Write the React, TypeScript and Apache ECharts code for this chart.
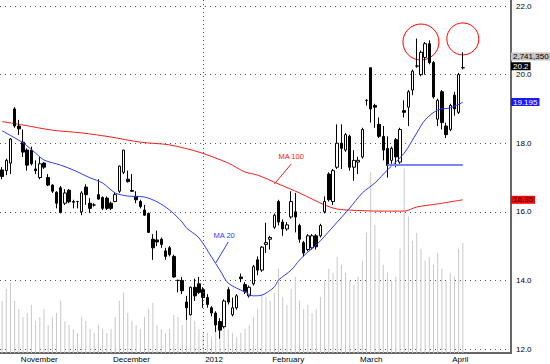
import React, { useEffect, useRef } from "react";
import * as echarts from "echarts";

// ---- data ----
const opens = [17.22,17.2,17.42,19.0,18.5,18.03,17.8,17.8,17.25,17.0,17.42,17.0,16.78,16.57,16.7,16.25,16.63,16.3,16.3,16.0,16.72,16.25,16.2,16.5,16.42,16.4,16.25,16.3,16.6,17.15,16.95,16.62,16.45,16.3,16.05,15.95,15.2,15.18,15.2,14.86,14.95,14.7,14.0,14.0,13.37,13.0,13.8,13.9,13.73,13.5,13.2,13.05,12.8,12.65,13.73,13.0,13.2,14.1,13.88,13.55,13.9,14.6,14.3,15.05,15.2,15.55,16.3,15.7,15.5,15.85,16.0,15.6,15.1,14.9,14.95,15.3,15.3,16.0,17.1,16.3,17.3,18.0,17.8,18.2,17.3,17.45,17.6,19.25,20.2,19.1,18.55,18.2,17.85,17.5,18.1,17.45,18.95,19.05,19.55,20.25,20.0,20.5,20.9,20.35,18.7,19.5,18.5,18.4,19.4,18.9,20.2];
const closes = [17.03,17.5,18.12,18.5,18.42,17.74,17.36,17.4,17.2,17.4,17.3,16.78,16.6,16.25,15.98,16.55,16.29,16.28,16.3,16.55,16.5,16.1,16.2,16.37,16.1,16.1,16.1,16.5,17.33,17.8,16.88,16.6,16.35,16.15,15.9,15.4,14.95,15.12,15.05,14.7,14.75,14.1,14.0,13.7,13.2,13.8,13.55,13.65,13.5,13.3,13.05,12.7,12.55,13.4,13.37,13.2,13.55,14.05,13.67,13.8,14.4,14.3,14.97,15.1,15.25,15.9,15.7,15.5,15.62,16.3,15.85,15.2,14.8,15.3,15.3,14.98,15.6,16.3,16.35,17.2,18.0,17.85,18.25,17.3,17.5,17.5,18.4,19.25,19.0,19.05,18.2,17.8,17.35,17.85,17.6,18.4,18.9,19.5,20.1,20.25,20.65,20.9,20.35,19.35,19.25,18.6,18.25,19.1,19.0,20.0,20.2];
const lows = [16.95,17.07,17.1,18.45,18.24,17.6,17.2,17.35,17.1,16.95,17.25,16.75,16.55,16.1,15.95,16.2,16.25,16.1,16.1,15.9,16.2,15.97,16.15,16.35,16.05,16.05,16.05,16.28,16.55,17.1,16.85,16.58,16.25,16.1,15.88,15.38,14.6,15.0,14.95,14.6,14.7,14.08,13.65,13.6,12.85,12.98,13.4,13.6,13.2,13.2,12.95,12.5,12.3,12.6,13.3,12.95,13.15,13.95,13.6,13.5,13.85,14.15,14.25,14.8,14.9,15.5,15.6,15.3,15.45,15.8,15.4,15.1,14.7,14.85,14.9,14.9,15.25,15.95,16.3,16.2,17.25,17.25,17.75,17.2,16.9,17.1,17.55,19.1,18.6,18.45,18.15,17.5,17.0,17.4,17.3,17.4,18.75,18.5,19.4,20.2,19.95,20.0,20.3,19.3,18.5,18.4,18.15,18.35,18.8,18.85,20.15];
const highs = [17.3,17.55,18.15,19.05,18.68,18.4,17.85,17.9,17.5,17.6,17.45,17.1,16.8,16.6,16.75,16.66,16.66,16.35,16.32,16.6,16.8,16.4,16.25,16.95,16.45,16.45,16.3,16.55,17.35,17.8,17.2,17.1,16.6,16.35,16.2,15.98,15.35,15.45,15.25,14.95,15.0,14.75,14.02,14.1,13.55,13.82,14.05,14.1,13.8,13.6,13.25,13.1,12.9,13.45,13.8,13.5,13.6,14.2,13.95,13.85,14.45,14.7,15.0,15.68,15.3,15.95,16.35,15.78,15.7,16.6,16.55,15.65,15.15,15.35,15.35,15.35,15.65,16.45,17.15,17.25,18.55,18.55,18.3,18.25,17.8,17.6,18.45,19.28,20.2,19.15,18.75,18.5,18.2,17.9,18.15,18.45,19.25,19.55,20.15,21.05,20.7,20.95,21.0,20.4,19.3,19.55,18.6,19.15,19.5,20.05,20.65];
const volumes = [1.3,1.6,1.75,1.3,1.1,0.9,1.0,1.2,0.8,0.9,1.1,0.7,0.9,1.0,1.3,0.8,0.7,0.6,0.5,0.9,0.8,0.6,0.5,0.7,0.6,0.5,0.6,0.9,1.3,1.5,1.0,0.8,0.7,0.6,0.9,1.1,1.25,0.7,0.6,0.5,0.6,0.95,0.9,0.7,1.15,1.0,0.8,0.6,0.5,0.5,0.4,0.6,0.7,0.9,0.6,0.5,0.4,0.5,0.6,0.7,0.9,1.1,1.45,1.4,1.3,1.5,2.1,1.4,1.2,1.6,1.9,1.3,1.1,1.2,1.0,1.1,1.4,1.8,2.1,2.0,2.4,2.2,2.0,1.8,1.7,1.9,2.3,3.0,4.5,3.2,2.6,2.2,2.0,1.8,1.9,2.6,4.6,3.4,2.8,3.0,2.6,2.3,2.4,2.2,2.5,2.1,1.8,2.0,1.9,2.6,2.74135].map((v) => v * 1e6);
const ma20 = [[0,18.36],[5,18.01],[8,17.71],[10,17.51],[14,17.36],[17,17.22],[21,16.99],[24,16.84],[27,16.55],[30,16.46],[34,16.43],[37,16.29],[40,16.05],[43,15.7],[44,15.53],[47,15.24],[50,14.68],[52,14.3],[54,13.92],[58,13.66],[60,13.55],[62,13.57],[65,13.81],[66,14.01],[69,14.3],[71,14.59],[73,14.83],[75,15.03],[77,15.29],[80,15.7],[83,16.11],[86,16.55],[89,16.84],[92,17.22],[96,17.71],[99,18.3],[101,18.68],[104,18.97],[107,19.03],[110,19.195]];
const ma100 = [[0,18.63],[5,18.53],[12,18.38],[19,18.3],[26,18.18],[33,18.03],[40,17.95],[47,17.74],[54,17.42],[58,17.16],[61,17.07],[66,16.81],[71,16.55],[77,16.2],[80,16.08],[83,16.05],[90,16.02],[96,16.02],[99,16.14],[104,16.23],[110,16.35]];
const monthLabels = ["November", "December", "2012", "February", "March", "April"];
const monthStartIdx = [4, 26, 48, 64, 85, 107];
const priceTicks = [12, 14, 16, 18, 20, 22];
const emptySlots = 11;
const lastPrice = 20.2;
const lastMa20 = 19.195;
const lastMa100 = 16.35;
const lastVolume = 2741350;
const supportLevel = 17.36;
const supportRange = [92, 110];
const yearBreakIdx = 48;

const FONT = 'Arial, "Liberation Sans", sans-serif';

export default function App() {
  const ref = useRef<HTMLDivElement>(null);
  useEffect(() => {
    if (!ref.current) return;
    const chart = echarts.init(ref.current, null, { renderer: "svg" });
    const n = opens.length + emptySlots;
    const cats = Array.from({ length: n }, (_, i) => String(i));
    const candles = opens.map((o, i) => [o, closes[i], lows[i], highs[i]]);
    const isMonth = (i: number) => monthStartIdx.indexOf(i) >= 0;
    const tag = (y: number, text: string, bg: string, fg: string, dy = 0) => ({
      yAxis: y,
      lineStyle: { color: "rgba(0,0,0,0)", width: 1 },
      label: {
        show: true, position: "end", distance: 0, formatter: text,
        backgroundColor: bg, color: fg, fontSize: 8, lineHeight: 8, fontFamily: FONT,
        padding: [0, 2, 0, 2], opacity: 1, offset: [0, dy],
      },
    });
    chart.setOption({
      animation: false,
      backgroundColor: "#fff",
      grid: [
        { left: -1, right: 39, top: 6, bottom: 15 },
        { left: -1, right: 39, top: 0, bottom: 11 },
      ],
      xAxis: [
        { type: "category", gridIndex: 0, data: cats, show: false, splitLine: { show: false } },
        {
          type: "category", gridIndex: 1, data: cats,
          axisLine: { lineStyle: { color: "#666", width: 2 } },
          axisTick: { interval: (i: number) => isMonth(i), alignWithLabel: true, length: 5, lineStyle: { color: "#444" } },
          axisLabel: {
            interval: (i: number) => isMonth(i),
            formatter: (_v: string, i: number) => monthLabels[monthStartIdx.indexOf(i)] ?? "",
            align: "left", margin: 2, fontSize: 8, color: "#000", fontFamily: FONT, padding: [0, 0, 0, 2],
          },
          splitLine: { show: false },
        },
      ],
      yAxis: [
        {
          type: "value", gridIndex: 0, position: "right",
          min: priceTicks[0], max: priceTicks[priceTicks.length - 1], interval: 2,
          axisLine: { show: false }, axisTick: { show: false },
          axisLabel: { fontSize: 8, lineHeight: 6, margin: 5, color: "#000", fontFamily: FONT, formatter: (v: number) => v.toFixed(1) },
          splitLine: { lineStyle: { type: [1, 4], color: "#555" } },
        },
        {
          type: "value", gridIndex: 1, position: "right", min: 0, max: 8.8e6,
          axisLine: { show: true, lineStyle: { color: "#666", width: 2 } },
          axisTick: { show: false }, axisLabel: { show: false }, splitLine: { show: false },
        },
      ],
      series: [
        {
          type: "bar", xAxisIndex: 1, yAxisIndex: 1, data: volumes, barWidth: 1,
          itemStyle: { color: "#c8c8c8" }, silent: true, z: 1,
          markLine: {
            symbol: "none", silent: true, label: { show: false },
            lineStyle: { type: [1, 3], color: "#555", width: 1 },
            data: [{ xAxis: String(yearBreakIdx) }],
          },
        },
        {
          type: "candlestick", xAxisIndex: 0, yAxisIndex: 0, data: candles, barWidth: 3,
          itemStyle: { color: "#fff", color0: "#000", borderColor: "#000", borderColor0: "#000", borderWidth: 1 },
          z: 3,
          markLine: {
            symbol: "none", silent: true,
            data: [
              [
                { coord: [String(supportRange[0]), supportLevel], lineStyle: { color: "#7a84f2", width: 2, type: "solid" }, label: { show: false } },
                { coord: [String(supportRange[1]), supportLevel] },
              ],
              tag(20.5, lastVolume.toLocaleString("en-US"), "#c4c4c4", "#000", -1),
              tag(lastPrice, String(lastPrice), "#000", "#fff", -1.5),
              tag(lastMa20, String(lastMa20), "#1a1aff", "#fff"),
              tag(lastMa100, String(lastMa100), "#ff0000", "#000"),
            ],
          },
        },
        {
          type: "line", xAxisIndex: 0, yAxisIndex: 0, data: ma20, showSymbol: false, smooth: 0.3,
          lineStyle: { color: "#2b3cf5", width: 1 }, z: 4,
        },
        {
          type: "line", xAxisIndex: 0, yAxisIndex: 0, data: ma100, showSymbol: false, smooth: 0.3,
          lineStyle: { color: "#f02020", width: 1 }, z: 2,
        },
      ],
    });
    const px = (idx: number, price: number) =>
      chart.convertToPixel({ xAxisIndex: 0, yAxisIndex: 0 }, [idx, price]) as number[];
    const t20 = px(52.6, 15.32), a20 = px(53.8, 15.12), b20 = px(51.2, 14.51);
    const t100 = px(68.6, 17.6), a100 = px(69.1, 17.39), b100 = px(65.2, 16.81);
    const e1 = px(99.8, 20.95), e2 = px(110.3, 21.04);
    chart.setOption({
      graphic: [
        { type: "text", x: t20[0], y: t20[1], style: { text: "MA 20", fill: "#2b3cf5", font: `7.5px ${FONT}`, align: "center", verticalAlign: "middle" } },
        { type: "line", shape: { x1: a20[0], y1: a20[1], x2: b20[0], y2: b20[1] }, style: { stroke: "#2b3cf5", lineWidth: 1 } },
        { type: "text", x: t100[0], y: t100[1], style: { text: "MA 100", fill: "#f02020", font: `7.5px ${FONT}`, align: "center", verticalAlign: "middle" } },
        { type: "line", shape: { x1: a100[0], y1: a100[1], x2: b100[0], y2: b100[1] }, style: { stroke: "#f02020", lineWidth: 1 } },
        { type: "ellipse", shape: { cx: e1[0], cy: e1[1], rx: 18, ry: 18 }, style: { fill: "none", stroke: "#ff0000", lineWidth: 1 } },
        { type: "ellipse", shape: { cx: e2[0], cy: e2[1], rx: 16, ry: 16 }, style: { fill: "none", stroke: "#ff0000", lineWidth: 1 } },
      ],
    });
    return () => chart.dispose();
  }, []);
  return (
    <div
      ref={ref}
      style={{ position: "fixed", left: 0, top: 0, width: 550, height: 364, background: "#fff" }}
    />
  );
}
